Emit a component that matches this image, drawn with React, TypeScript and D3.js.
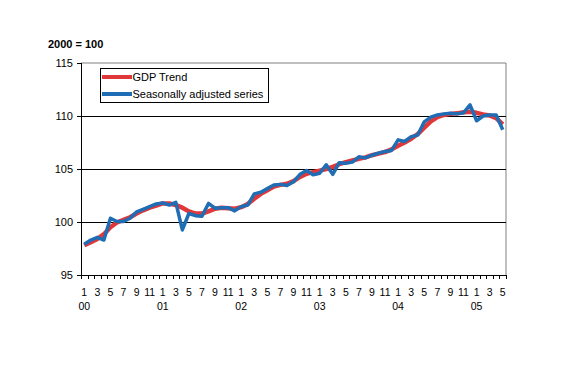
import React from "react";
import * as d3 from "d3";

const years = ["00", "01", "02", "03", "04", "05"];
const monthsPerYear = [12, 12, 12, 12, 12, 5];

const trend = [
  97.8, 98.1, 98.4, 98.85, 99.5, 99.95, 100.2, 100.45, 100.8, 101.1, 101.35, 101.55,
  101.75, 101.75, 101.6, 101.35, 101.0, 100.8, 100.8, 101.0, 101.25, 101.35, 101.3, 101.25,
  101.4, 101.7, 102.2, 102.65, 103.0, 103.35, 103.5, 103.6, 103.85, 104.25, 104.55, 104.7,
  104.85, 105.0, 105.2, 105.45, 105.65, 105.8, 105.95, 106.1, 106.3, 106.45, 106.6, 106.85,
  107.2, 107.5, 107.85, 108.3, 108.9, 109.5, 109.9, 110.1, 110.2, 110.25, 110.35, 110.4,
  110.3, 110.15, 110.05, 109.8, 109.2,
];

const seasonal = [
  97.9, 98.3, 98.55, 98.3, 100.35, 100.05, 100.05, 100.35, 100.95, 101.2, 101.45, 101.7,
  101.8, 101.6, 101.85, 99.25, 100.8, 100.6, 100.55, 101.75, 101.3, 101.35, 101.35, 101.05,
  101.45, 101.6, 102.65, 102.8, 103.15, 103.5, 103.55, 103.45, 103.8, 104.5, 104.85, 104.45,
  104.6, 105.4, 104.5, 105.6, 105.55, 105.65, 106.15, 106.05, 106.3, 106.5, 106.65, 106.75,
  107.75, 107.6, 108.05, 108.2, 109.45, 109.9, 110.1, 110.2, 110.25, 110.2, 110.3, 111.05,
  109.55, 110.0, 110.1, 110.1, 108.7,
];

const yTicks = [95, 100, 105, 110, 115];
const gridValues = [100, 105, 110];
const seriesNames = ["GDP Trend", "Seasonally adjusted series"];
const seriesColors = ["#e0373b", "#1f6db4"];
const unitLabel = "2000 = 100";

type Cat = { key: string; month: number; year: string };
const cats: Cat[] = [];
years.forEach((y, yi) => {
  for (let m = 1; m <= monthsPerYear[yi]; m++) cats.push({ key: `${y}-${m}`, month: m, year: y });
});

export default function App() {
  const W = 577, H = 378;
  const left = 81, right = 506, top = 63, bottom = 275;
  const font = "Arial, 'Liberation Sans', sans-serif";

  const x = d3.scaleBand<string>().domain(cats.map((c) => c.key)).range([left, right]).padding(0);
  const y = d3.scaleLinear().domain([95, 115]).range([bottom, top]);
  const cx = (k: string) => (x(k) as number) + x.bandwidth() / 2;

  const line = d3
    .line<number>()
    .x((_, i) => cx(cats[i].key))
    .y((d) => y(d));

  const tickXs = cats.map((c) => x(c.key) as number).concat([right]);

  return (
    <svg
      width={W}
      height={H}
      style={{ position: "absolute", left: 0, top: 0, background: "#fff" }}
      fontFamily={font}
    >
      <rect x={0} y={0} width={W} height={H} fill="#fff" />
      <text x={48} y={48} fontSize={11} fontWeight="bold" fill="#000">
        {unitLabel}
      </text>
      {/* plot frame */}
      <line x1={left} x2={right} y1={top} y2={top} stroke="#808080" strokeWidth={1} />
      <line x1={right} x2={right} y1={top} y2={bottom} stroke="#808080" strokeWidth={1} />
      {gridValues.map((v) => (
        <line key={v} x1={left} x2={right} y1={Math.round(y(v)) + 0.5} y2={Math.round(y(v)) + 0.5} stroke="#000" strokeWidth={1} />
      ))}
      {/* y axis */}
      <line x1={left + 0.5} x2={left + 0.5} y1={top} y2={bottom} stroke="#000" strokeWidth={1} />
      {yTicks.map((v) => (
        <g key={v}>
          <line x1={left - 4} x2={left} y1={Math.round(y(v)) + 0.5} y2={Math.round(y(v)) + 0.5} stroke="#000" />
          <text x={73} y={y(v) + 4} fontSize={11} textAnchor="end" fill="#000">
            {v}
          </text>
        </g>
      ))}
      {/* x axis */}
      <line x1={left} x2={right} y1={bottom + 0.5} y2={bottom + 0.5} stroke="#000" strokeWidth={1} />
      {tickXs.map((t, i) => (
        <line key={i} x1={Math.round(t) + 0.5} x2={Math.round(t) + 0.5} y1={bottom} y2={bottom + 4} stroke="#000" />
      ))}
      {cats.map((c) =>
        c.month % 2 === 1 ? (
          <text key={c.key} x={cx(c.key)} y={296} fontSize={10.5} textAnchor="middle" fill="#000">
            {c.month}
          </text>
        ) : null
      )}
      {cats
        .filter((c) => c.month === 1)
        .map((c) => (
          <text key={"y" + c.key} x={cx(c.key)} y={310} fontSize={10.5} textAnchor="middle" fill="#000">
            {c.year}
          </text>
        ))}
      {/* series */}
      <path d={line(trend) || ""} fill="none" stroke={seriesColors[0]} strokeWidth={4.5} strokeLinejoin="round" />
      <path d={line(seasonal) || ""} fill="none" stroke={seriesColors[1]} strokeWidth={3.5} strokeLinejoin="round" />
      {/* legend */}
      <rect x={100.5} y={68.5} width={168} height={34} fill="#fff" stroke="#000" strokeWidth={1} />
      {seriesNames.map((n, i) => (
        <g key={n}>
          <line x1={102} x2={132} y1={77 + i * 17} y2={77 + i * 17} stroke={seriesColors[i]} strokeWidth={4} />
          <text x={132.5} y={81 + i * 17} fontSize={11} fill="#000">
            {n}
          </text>
        </g>
      ))}
    </svg>
  );
}
